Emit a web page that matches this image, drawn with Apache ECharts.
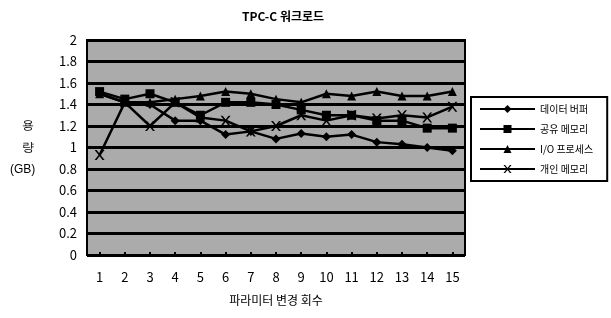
<!DOCTYPE html>
<html>
<head>
<meta charset="utf-8">
<script src="https://cdn.jsdelivr.net/npm/echarts@6/dist/echarts.min.js"></script>
<style>
  html, body { margin: 0; padding: 0; background: #fff; }
  #chart { width: 611px; height: 318px; }
</style>
</head>
<body>
<div id="chart"></div>
<script>
// 파라미터 변경 회수
const categories = ['1', '2', '3', '4', '5', '6', '7', '8', '9', '10', '11', '12', '13', '14', '15'];
const seriesNames = ['데이터 버퍼', '공유 메모리', 'I/O 프로세스', '개인 메모리'];
const dataBuffer  = [1.50, 1.42, 1.40, 1.25, 1.25, 1.12, 1.15, 1.08, 1.13, 1.10, 1.12, 1.05, 1.03, 1.00, 0.97];
const sharedMem   = [1.52, 1.45, 1.50, 1.42, 1.30, 1.42, 1.42, 1.40, 1.35, 1.30, 1.30, 1.25, 1.25, 1.18, 1.18];
const ioProcess   = [1.50, 1.42, 1.42, 1.45, 1.48, 1.52, 1.50, 1.45, 1.42, 1.50, 1.48, 1.52, 1.48, 1.48, 1.52];
const privateMem  = [0.93, 1.42, 1.20, 1.42, 1.28, 1.25, 1.15, 1.20, 1.30, 1.25, 1.30, 1.27, 1.30, 1.28, 1.38];
const symbols = ['diamond', 'rect', 'triangle', 'path://M0,0L2,0L5,3L8,0L10,0L6,4L10,8L8,8L5,5L2,8L0,8L4,4Z'];
const symbolSizes = [9, 9, 9, 10];

var chart = echarts.init(document.getElementById('chart'));
var font = '"Noto Sans CJK KR", "DejaVu Sans", sans-serif';
var values = [dataBuffer, sharedMem, ioProcess, privateMem];

chart.setOption({
  animation: false,
  textStyle: { fontFamily: font, color: '#000' },
  title: {
    text: 'TPC-C 워크로드',
    left: 278, top: 5, textAlign: 'center',
    textStyle: { fontSize: 12, fontWeight: 'bold', color: '#000', fontFamily: font }
  },
  grid: {
    left: 87, right: 146, top: 40, bottom: 63,
    show: true, backgroundColor: '#ababab', borderColor: '#000', borderWidth: 2
  },
  legend: {
    orient: 'vertical',
    left: 471, top: 97,
    padding: [7, 14, 7, 8],
    itemGap: 10,
    itemWidth: 55, itemHeight: 10,
    backgroundColor: '#fff',
    borderColor: '#000', borderWidth: 2,
    textStyle: { fontSize: 10, color: '#000', fontFamily: font },
    data: seriesNames
  },
  xAxis: {
    type: 'category',
    data: categories,
    boundaryGap: true,
    name: '파라미터 변경 회수',
    nameLocation: 'middle',
    nameGap: 39,
    nameTextStyle: { fontSize: 12, color: '#000', fontFamily: font },
    axisLine: { lineStyle: { color: '#000', width: 2 } },
    axisTick: { show: true, inside: true, alignWithLabel: true, length: 3, lineStyle: { color: '#000', width: 2 } },
    axisLabel: { fontSize: 13, color: '#000', margin: 16, fontFamily: font }
  },
  yAxis: {
    type: 'value',
    min: 0, max: 2, interval: 0.2,
    axisLine: { show: true, lineStyle: { color: '#000', width: 2 } },
    axisTick: { show: false },
    axisLabel: { fontSize: 13, color: '#000', margin: 10, fontFamily: font },
    splitLine: { show: true, lineStyle: { color: '#000', width: 3 } }
  },
  graphic: [
    {
      type: 'text', left: 22, top: 120,
      style: { text: '용', fontSize: 12, fill: '#000', font: '12px ' + font }
    },
    {
      type: 'text', left: 22, top: 142,
      style: { text: '량', fontSize: 12, fill: '#000', font: '12px ' + font }
    },
    {
      type: 'text', left: 10, top: 164,
      style: { text: '(GB)', fontSize: 12, fill: '#000', font: '12px ' + font }
    }
  ],
  series: seriesNames.map(function (name, i) {
    return {
      name: name,
      type: 'line',
      data: values[i],
      symbol: symbols[i],
      symbolSize: symbolSizes[i],
      itemStyle: { color: '#000' },
      lineStyle: { color: '#000', width: 2.5 }
    };
  })
});
</script>
</body>
</html>
